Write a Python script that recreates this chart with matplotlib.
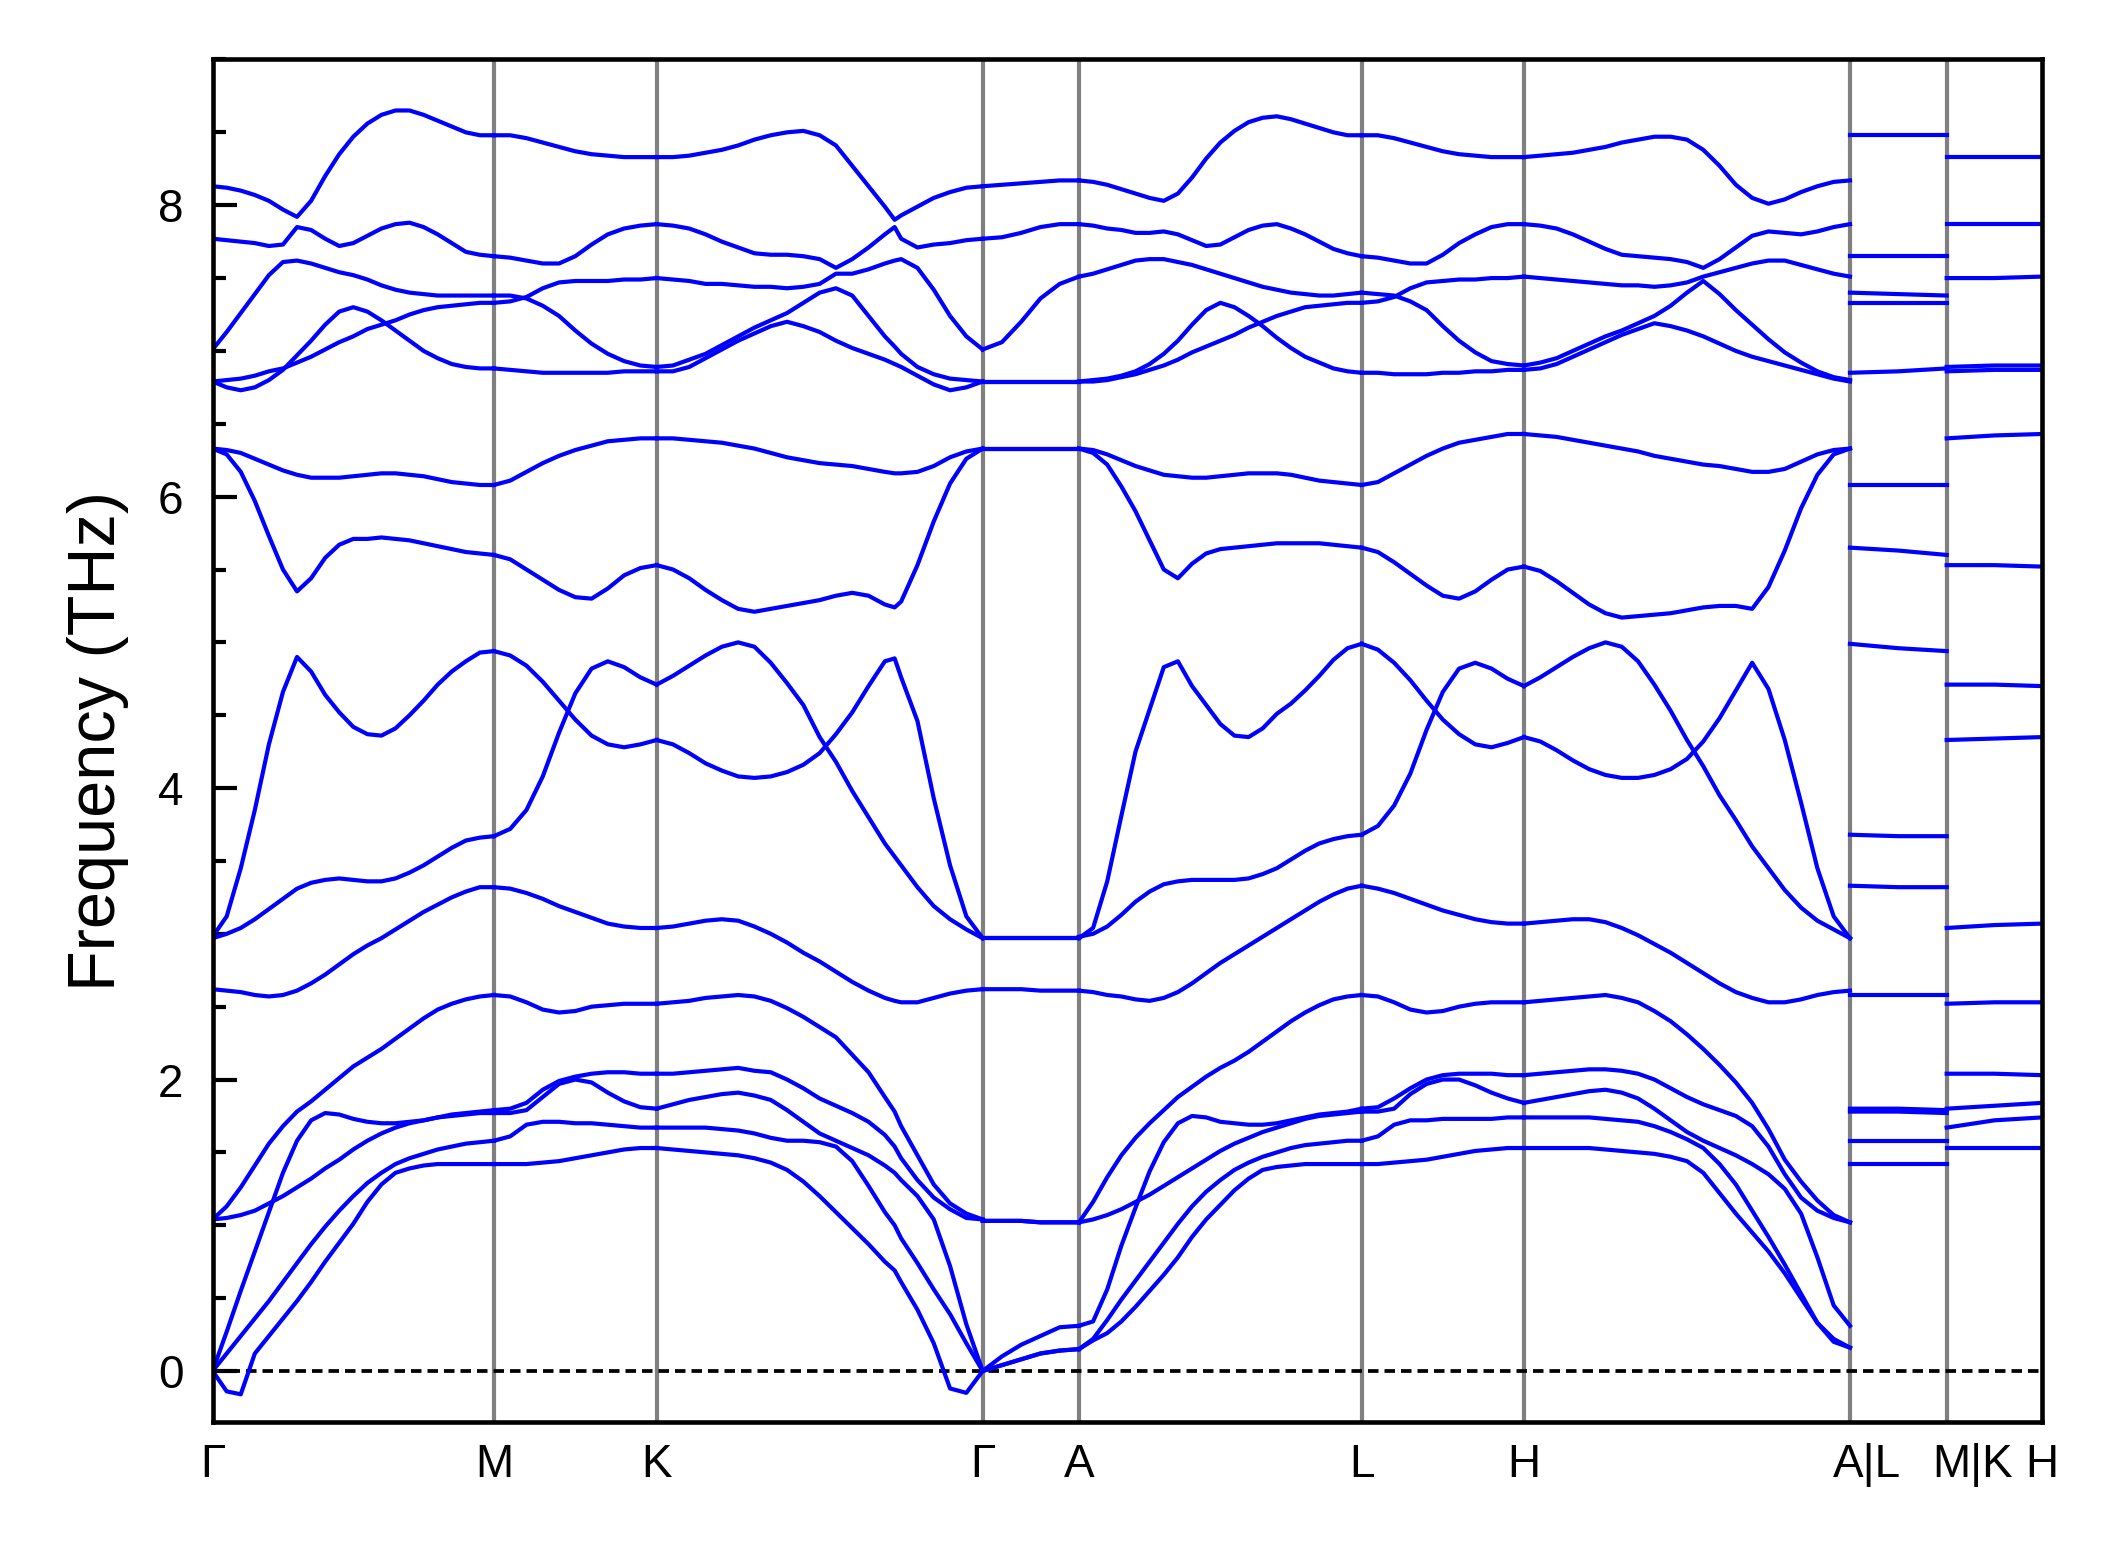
# Phonon band structure along G-M-K-G-A-L-H-A|L-M|K-H

import matplotlib
matplotlib.use('Agg')
import matplotlib.pyplot as plt
from matplotlib.ticker import MultipleLocator
from matplotlib.transforms import ScaledTranslation
import numpy as np

plt.rcParams['font.family'] = ['Liberation Sans', 'DejaVu Sans']

# high-symmetry points and their path distance
labels = ['Γ', 'M', 'K', 'Γ', 'A', 'L', 'H', 'A|L', 'M|K', 'H']
k_nodes = [0.0, 0.2813, 0.4440, 0.7700, 0.8663, 1.1490, 1.3113, 1.6373, 1.7340, 1.8293]

# fractional sample positions inside each segment
t21 = [0.0, 0.05, 0.1, 0.15, 0.2, 0.25, 0.3, 0.35, 0.4, 0.45, 0.5,
       0.55, 0.6, 0.65, 0.7, 0.75, 0.8, 0.85, 0.9, 0.95, 1.0]
t22 = [0.0, 0.05, 0.1, 0.15, 0.2, 0.25, 0.3, 0.35, 0.4, 0.45, 0.5,
       0.55, 0.6, 0.65, 0.7, 0.73, 0.75, 0.8, 0.85, 0.9, 0.95, 1.0]
t11 = [0.0, 0.1, 0.2, 0.3, 0.4, 0.5, 0.6, 0.7, 0.8, 0.9, 1.0]
t6 = [0.0, 0.2, 0.4, 0.6, 0.8, 1.0]
t3 = [0.0, 0.5, 1.0]

# Γ - M  (THz)
gm = [
    [8.13, 8.12, 8.10, 8.07, 8.03, 7.97, 7.92, 8.03, 8.20, 8.35, 8.47, 8.56, 8.62, 8.65, 8.65, 8.62, 8.58, 8.54, 8.50, 8.48, 8.48],
    [7.77, 7.76, 7.75, 7.74, 7.72, 7.73, 7.85, 7.83, 7.77, 7.72, 7.74, 7.79, 7.84, 7.87, 7.88, 7.85, 7.80, 7.74, 7.68, 7.66, 7.65],
    [7.01, 7.13, 7.26, 7.39, 7.52, 7.61, 7.62, 7.60, 7.57, 7.54, 7.52, 7.49, 7.45, 7.42, 7.40, 7.39, 7.38, 7.38, 7.38, 7.38, 7.38],
    [6.79, 6.80, 6.81, 6.83, 6.86, 6.88, 6.92, 6.96, 7.01, 7.06, 7.10, 7.15, 7.18, 7.21, 7.25, 7.28, 7.30, 7.31, 7.32, 7.33, 7.33],
    [6.79, 6.75, 6.73, 6.75, 6.80, 6.87, 6.97, 7.07, 7.18, 7.27, 7.30, 7.27, 7.21, 7.14, 7.07, 7.00, 6.95, 6.91, 6.89, 6.88, 6.88],
    [6.33, 6.32, 6.30, 6.26, 6.22, 6.18, 6.15, 6.13, 6.13, 6.13, 6.14, 6.15, 6.16, 6.16, 6.15, 6.14, 6.12, 6.10, 6.09, 6.08, 6.08],
    [6.33, 6.29, 6.17, 5.97, 5.73, 5.50, 5.35, 5.44, 5.58, 5.67, 5.71, 5.71, 5.72, 5.71, 5.70, 5.68, 5.66, 5.64, 5.62, 5.61, 5.60],
    [2.98, 3.12, 3.45, 3.85, 4.30, 4.66, 4.90, 4.80, 4.64, 4.52, 4.42, 4.37, 4.36, 4.41, 4.50, 4.60, 4.71, 4.80, 4.87, 4.93, 4.94],
    [2.97, 3.00, 3.04, 3.10, 3.17, 3.24, 3.31, 3.35, 3.37, 3.38, 3.37, 3.36, 3.36, 3.38, 3.42, 3.47, 3.53, 3.59, 3.64, 3.66, 3.67],
    [2.62, 2.61, 2.60, 2.58, 2.57, 2.58, 2.61, 2.66, 2.72, 2.79, 2.86, 2.92, 2.97, 3.03, 3.09, 3.15, 3.20, 3.25, 3.29, 3.32, 3.32],
    [1.04, 1.13, 1.26, 1.41, 1.56, 1.68, 1.78, 1.85, 1.93, 2.01, 2.09, 2.15, 2.21, 2.28, 2.35, 2.42, 2.48, 2.52, 2.55, 2.57, 2.58],
    [1.04, 1.05, 1.07, 1.10, 1.15, 1.20, 1.26, 1.32, 1.39, 1.45, 1.52, 1.58, 1.63, 1.67, 1.70, 1.72, 1.74, 1.75, 1.76, 1.77, 1.77],
    [0.00, 0.27, 0.55, 0.82, 1.09, 1.36, 1.58, 1.72, 1.77, 1.76, 1.73, 1.71, 1.70, 1.70, 1.71, 1.72, 1.74, 1.76, 1.77, 1.78, 1.79],
    [0.00, 0.12, 0.24, 0.36, 0.48, 0.61, 0.74, 0.87, 0.99, 1.10, 1.20, 1.29, 1.36, 1.42, 1.46, 1.49, 1.52, 1.54, 1.56, 1.57, 1.58],
    [0.00, -0.14, -0.16, 0.12, 0.24, 0.36, 0.48, 0.61, 0.75, 0.88, 1.01, 1.16, 1.28, 1.36, 1.39, 1.41, 1.42, 1.42, 1.42, 1.42, 1.42],
]

# M - K
mk = [
    [8.48, 8.48, 8.46, 8.43, 8.40, 8.37, 8.35, 8.34, 8.33, 8.33, 8.33],
    [7.65, 7.64, 7.62, 7.60, 7.60, 7.65, 7.73, 7.80, 7.84, 7.86, 7.87],
    [7.38, 7.38, 7.36, 7.31, 7.24, 7.14, 7.05, 6.98, 6.93, 6.90, 6.89],
    [7.33, 7.34, 7.37, 7.43, 7.47, 7.48, 7.48, 7.48, 7.49, 7.49, 7.50],
    [6.88, 6.87, 6.86, 6.85, 6.85, 6.85, 6.85, 6.85, 6.86, 6.86, 6.86],
    [6.08, 6.11, 6.17, 6.23, 6.28, 6.32, 6.35, 6.38, 6.39, 6.40, 6.40],
    [5.60, 5.57, 5.50, 5.43, 5.36, 5.31, 5.30, 5.37, 5.46, 5.51, 5.53],
    [4.94, 4.91, 4.84, 4.73, 4.60, 4.47, 4.36, 4.30, 4.28, 4.30, 4.33],
    [3.67, 3.72, 3.85, 4.08, 4.38, 4.65, 4.82, 4.87, 4.83, 4.76, 4.71],
    [3.32, 3.31, 3.28, 3.24, 3.19, 3.15, 3.11, 3.07, 3.05, 3.04, 3.04],
    [2.58, 2.57, 2.53, 2.48, 2.46, 2.47, 2.50, 2.51, 2.52, 2.52, 2.52],
    [1.79, 1.80, 1.84, 1.93, 1.99, 2.02, 2.04, 2.05, 2.05, 2.04, 2.04],
    [1.77, 1.77, 1.79, 1.88, 1.97, 2.00, 1.98, 1.91, 1.85, 1.81, 1.80],
    [1.58, 1.61, 1.69, 1.71, 1.71, 1.70, 1.70, 1.69, 1.68, 1.67, 1.67],
    [1.42, 1.42, 1.42, 1.43, 1.44, 1.46, 1.48, 1.50, 1.52, 1.53, 1.53],
]

# K - Γ
kg = [
    [8.33, 8.33, 8.34, 8.36, 8.38, 8.41, 8.45, 8.48, 8.50, 8.51, 8.48, 8.41, 8.27, 8.13, 7.99, 7.90, 7.93, 7.99, 8.05, 8.09, 8.12, 8.13],
    [7.87, 7.86, 7.84, 7.80, 7.75, 7.71, 7.67, 7.66, 7.66, 7.65, 7.63, 7.57, 7.63, 7.71, 7.80, 7.85, 7.77, 7.71, 7.73, 7.74, 7.76, 7.77],
    [7.50, 7.49, 7.48, 7.46, 7.46, 7.45, 7.44, 7.44, 7.43, 7.44, 7.46, 7.53, 7.53, 7.56, 7.60, 7.62, 7.63, 7.57, 7.42, 7.24, 7.10, 7.01],
    [6.89, 6.90, 6.94, 6.98, 7.04, 7.10, 7.16, 7.21, 7.26, 7.33, 7.40, 7.43, 7.38, 7.24, 7.10, 7.03, 6.98, 6.89, 6.84, 6.81, 6.80, 6.79],
    [6.86, 6.86, 6.89, 6.95, 7.01, 7.07, 7.12, 7.17, 7.20, 7.17, 7.13, 7.07, 7.02, 6.98, 6.94, 6.91, 6.89, 6.83, 6.77, 6.73, 6.75, 6.79],
    [6.40, 6.40, 6.39, 6.38, 6.37, 6.35, 6.33, 6.30, 6.27, 6.25, 6.23, 6.22, 6.21, 6.19, 6.17, 6.16, 6.16, 6.17, 6.21, 6.27, 6.31, 6.33],
    [5.53, 5.50, 5.44, 5.36, 5.29, 5.23, 5.21, 5.23, 5.25, 5.27, 5.29, 5.32, 5.34, 5.32, 5.26, 5.24, 5.28, 5.53, 5.83, 6.09, 6.26, 6.33],
    [4.33, 4.30, 4.24, 4.17, 4.12, 4.08, 4.07, 4.08, 4.11, 4.16, 4.24, 4.37, 4.52, 4.70, 4.87, 4.89, 4.76, 4.46, 3.93, 3.47, 3.12, 2.97],
    [4.71, 4.77, 4.84, 4.91, 4.97, 5.00, 4.97, 4.86, 4.72, 4.57, 4.35, 4.18, 3.98, 3.80, 3.62, 3.53, 3.47, 3.32, 3.19, 3.10, 3.03, 2.97],
    [3.04, 3.05, 3.07, 3.09, 3.10, 3.09, 3.05, 3.00, 2.94, 2.87, 2.81, 2.74, 2.67, 2.61, 2.56, 2.54, 2.53, 2.53, 2.56, 2.59, 2.61, 2.62],
    [2.52, 2.53, 2.54, 2.56, 2.57, 2.58, 2.57, 2.54, 2.49, 2.43, 2.36, 2.29, 2.17, 2.05, 1.88, 1.78, 1.68, 1.48, 1.28, 1.15, 1.08, 1.04],
    [2.04, 2.04, 2.05, 2.06, 2.07, 2.08, 2.06, 2.05, 2.00, 1.94, 1.87, 1.82, 1.77, 1.71, 1.62, 1.54, 1.46, 1.31, 1.19, 1.11, 1.05, 1.04],
    [1.80, 1.83, 1.86, 1.88, 1.90, 1.91, 1.89, 1.86, 1.79, 1.71, 1.63, 1.58, 1.53, 1.48, 1.41, 1.36, 1.31, 1.20, 1.04, 0.72, 0.32, 0.00],
    [1.67, 1.67, 1.67, 1.67, 1.66, 1.65, 1.63, 1.60, 1.58, 1.58, 1.57, 1.54, 1.44, 1.27, 1.09, 1.00, 0.91, 0.74, 0.56, 0.39, 0.19, 0.00],
    [1.53, 1.52, 1.51, 1.50, 1.49, 1.48, 1.46, 1.43, 1.38, 1.30, 1.20, 1.09, 0.98, 0.87, 0.75, 0.69, 0.61, 0.42, 0.19, -0.12, -0.15, 0.00],
]

# Γ - A
ga = [
    [8.13, 8.14, 8.15, 8.16, 8.17, 8.17],
    [7.77, 7.78, 7.81, 7.85, 7.87, 7.87],
    [7.01, 7.06, 7.20, 7.36, 7.46, 7.51],
    [6.79, 6.79, 6.79, 6.79, 6.79, 6.79],
    [6.79, 6.79, 6.79, 6.79, 6.79, 6.79],
    [6.33, 6.33, 6.33, 6.33, 6.33, 6.33],
    [6.33, 6.33, 6.33, 6.33, 6.33, 6.33],
    [2.97, 2.97, 2.97, 2.97, 2.97, 2.97],
    [2.97, 2.97, 2.97, 2.97, 2.97, 2.97],
    [2.62, 2.62, 2.62, 2.61, 2.61, 2.61],
    [1.03, 1.03, 1.03, 1.02, 1.02, 1.02],
    [1.03, 1.03, 1.03, 1.02, 1.02, 1.02],
    [0.00, 0.10, 0.18, 0.24, 0.30, 0.31],
    [0.00, 0.04, 0.08, 0.12, 0.14, 0.15],
    [0.00, 0.04, 0.08, 0.12, 0.14, 0.15],
]

# A - L
al = [
    [8.17, 8.16, 8.14, 8.11, 8.08, 8.05, 8.03, 8.08, 8.19, 8.32, 8.43, 8.51, 8.57, 8.60, 8.61, 8.59, 8.56, 8.53, 8.50, 8.48, 8.48],
    [7.87, 7.86, 7.84, 7.83, 7.81, 7.81, 7.82, 7.80, 7.76, 7.72, 7.73, 7.78, 7.83, 7.86, 7.87, 7.84, 7.80, 7.75, 7.70, 7.67, 7.65],
    [7.51, 7.53, 7.56, 7.59, 7.62, 7.63, 7.63, 7.61, 7.59, 7.56, 7.53, 7.50, 7.47, 7.44, 7.42, 7.40, 7.39, 7.38, 7.38, 7.39, 7.40],
    [6.79, 6.79, 6.80, 6.82, 6.84, 6.87, 6.90, 6.94, 6.99, 7.03, 7.07, 7.11, 7.16, 7.20, 7.24, 7.27, 7.30, 7.31, 7.32, 7.33, 7.33],
    [6.79, 6.80, 6.81, 6.83, 6.86, 6.91, 6.98, 7.07, 7.18, 7.28, 7.33, 7.30, 7.24, 7.17, 7.09, 7.02, 6.96, 6.92, 6.88, 6.86, 6.85],
    [6.33, 6.32, 6.29, 6.25, 6.21, 6.18, 6.15, 6.14, 6.13, 6.13, 6.14, 6.15, 6.16, 6.16, 6.16, 6.15, 6.13, 6.11, 6.10, 6.09, 6.08],
    [6.33, 6.30, 6.22, 6.07, 5.90, 5.70, 5.50, 5.44, 5.54, 5.61, 5.64, 5.65, 5.66, 5.67, 5.68, 5.68, 5.68, 5.68, 5.67, 5.66, 5.65],
    [2.97, 3.04, 3.36, 3.81, 4.25, 4.54, 4.83, 4.87, 4.70, 4.57, 4.44, 4.36, 4.35, 4.41, 4.51, 4.58, 4.67, 4.77, 4.88, 4.96, 4.99],
    [2.98, 3.00, 3.05, 3.13, 3.22, 3.29, 3.34, 3.36, 3.37, 3.37, 3.37, 3.37, 3.38, 3.41, 3.45, 3.51, 3.57, 3.62, 3.65, 3.67, 3.68],
    [2.61, 2.60, 2.58, 2.57, 2.55, 2.54, 2.56, 2.60, 2.66, 2.73, 2.80, 2.86, 2.92, 2.98, 3.04, 3.10, 3.16, 3.22, 3.27, 3.31, 3.33],
    [1.02, 1.16, 1.33, 1.48, 1.60, 1.70, 1.79, 1.88, 1.95, 2.02, 2.08, 2.13, 2.19, 2.26, 2.33, 2.40, 2.46, 2.51, 2.55, 2.57, 2.58],
    [1.02, 1.04, 1.07, 1.11, 1.16, 1.21, 1.27, 1.33, 1.39, 1.45, 1.51, 1.56, 1.60, 1.64, 1.67, 1.70, 1.73, 1.75, 1.76, 1.77, 1.78],
    [0.31, 0.34, 0.56, 0.86, 1.12, 1.37, 1.57, 1.70, 1.75, 1.74, 1.71, 1.70, 1.69, 1.69, 1.70, 1.72, 1.74, 1.76, 1.77, 1.78, 1.80],
    [0.15, 0.22, 0.35, 0.49, 0.62, 0.75, 0.88, 1.01, 1.13, 1.23, 1.31, 1.38, 1.43, 1.47, 1.50, 1.53, 1.55, 1.56, 1.57, 1.58, 1.58],
    [0.15, 0.21, 0.26, 0.34, 0.44, 0.55, 0.66, 0.78, 0.92, 1.04, 1.14, 1.24, 1.32, 1.38, 1.40, 1.41, 1.42, 1.42, 1.42, 1.42, 1.42],
]

# L - H
lh = [
    [8.48, 8.48, 8.46, 8.43, 8.40, 8.37, 8.35, 8.34, 8.33, 8.33, 8.33],
    [7.65, 7.64, 7.62, 7.60, 7.60, 7.66, 7.74, 7.80, 7.85, 7.87, 7.87],
    [7.40, 7.39, 7.38, 7.34, 7.28, 7.17, 7.07, 6.99, 6.93, 6.91, 6.90],
    [7.33, 7.34, 7.37, 7.43, 7.47, 7.48, 7.49, 7.49, 7.50, 7.50, 7.51],
    [6.85, 6.85, 6.84, 6.84, 6.84, 6.85, 6.85, 6.86, 6.86, 6.87, 6.87],
    [6.08, 6.10, 6.16, 6.22, 6.28, 6.33, 6.37, 6.39, 6.41, 6.43, 6.43],
    [5.65, 5.62, 5.55, 5.47, 5.39, 5.32, 5.30, 5.35, 5.43, 5.50, 5.52],
    [4.99, 4.95, 4.86, 4.74, 4.60, 4.47, 4.37, 4.30, 4.28, 4.31, 4.35],
    [3.68, 3.74, 3.88, 4.10, 4.40, 4.66, 4.82, 4.86, 4.82, 4.75, 4.70],
    [3.33, 3.31, 3.28, 3.24, 3.20, 3.16, 3.13, 3.10, 3.08, 3.07, 3.07],
    [2.58, 2.57, 2.53, 2.48, 2.46, 2.47, 2.50, 2.52, 2.53, 2.53, 2.53],
    [1.80, 1.81, 1.87, 1.94, 2.00, 2.03, 2.04, 2.04, 2.04, 2.03, 2.03],
    [1.78, 1.78, 1.80, 1.90, 1.97, 2.00, 2.00, 1.96, 1.91, 1.87, 1.84],
    [1.58, 1.61, 1.69, 1.72, 1.72, 1.73, 1.73, 1.73, 1.73, 1.74, 1.74],
    [1.42, 1.42, 1.43, 1.44, 1.45, 1.47, 1.49, 1.51, 1.52, 1.53, 1.53],
]

# H - A
ha = [
    [8.33, 8.34, 8.35, 8.36, 8.38, 8.40, 8.43, 8.45, 8.47, 8.47, 8.45, 8.38, 8.27, 8.14, 8.05, 8.01, 8.04, 8.09, 8.13, 8.16, 8.17],
    [7.87, 7.86, 7.84, 7.80, 7.75, 7.70, 7.66, 7.65, 7.64, 7.63, 7.61, 7.57, 7.63, 7.71, 7.79, 7.82, 7.81, 7.80, 7.82, 7.85, 7.87],
    [7.51, 7.50, 7.49, 7.48, 7.47, 7.46, 7.45, 7.45, 7.44, 7.45, 7.47, 7.51, 7.54, 7.57, 7.60, 7.62, 7.62, 7.59, 7.56, 7.53, 7.51],
    [6.90, 6.92, 6.95, 7.00, 7.05, 7.10, 7.14, 7.19, 7.24, 7.31, 7.40, 7.48, 7.39, 7.28, 7.18, 7.08, 6.99, 6.92, 6.86, 6.82, 6.80],
    [6.87, 6.88, 6.91, 6.96, 7.01, 7.06, 7.11, 7.15, 7.19, 7.17, 7.14, 7.10, 7.05, 7.00, 6.96, 6.93, 6.90, 6.87, 6.84, 6.81, 6.79],
    [6.43, 6.42, 6.41, 6.39, 6.37, 6.35, 6.33, 6.31, 6.28, 6.26, 6.24, 6.22, 6.21, 6.19, 6.17, 6.17, 6.19, 6.24, 6.29, 6.32, 6.33],
    [5.52, 5.49, 5.42, 5.34, 5.26, 5.20, 5.17, 5.18, 5.19, 5.20, 5.22, 5.24, 5.25, 5.25, 5.23, 5.38, 5.63, 5.92, 6.15, 6.29, 6.33],
    [4.35, 4.32, 4.26, 4.19, 4.13, 4.09, 4.07, 4.07, 4.09, 4.13, 4.20, 4.32, 4.48, 4.67, 4.86, 4.68, 4.33, 3.90, 3.45, 3.12, 2.97],
    [4.70, 4.76, 4.83, 4.90, 4.96, 5.00, 4.97, 4.87, 4.71, 4.53, 4.33, 4.15, 3.95, 3.78, 3.60, 3.45, 3.30, 3.18, 3.09, 3.03, 2.97],
    [3.07, 3.08, 3.09, 3.10, 3.10, 3.08, 3.04, 2.99, 2.93, 2.87, 2.80, 2.73, 2.66, 2.60, 2.56, 2.53, 2.53, 2.55, 2.58, 2.60, 2.61],
    [2.53, 2.54, 2.55, 2.56, 2.57, 2.58, 2.56, 2.53, 2.47, 2.40, 2.31, 2.21, 2.10, 1.98, 1.84, 1.66, 1.45, 1.30, 1.17, 1.07, 1.02],
    [2.03, 2.04, 2.05, 2.06, 2.07, 2.07, 2.06, 2.04, 2.00, 1.94, 1.88, 1.83, 1.79, 1.75, 1.68, 1.54, 1.35, 1.19, 1.10, 1.05, 1.02],
    [1.84, 1.86, 1.88, 1.90, 1.92, 1.93, 1.91, 1.87, 1.80, 1.72, 1.64, 1.58, 1.53, 1.48, 1.42, 1.35, 1.25, 1.08, 0.78, 0.45, 0.31],
    [1.74, 1.74, 1.74, 1.74, 1.74, 1.73, 1.72, 1.71, 1.68, 1.64, 1.59, 1.53, 1.42, 1.28, 1.10, 0.92, 0.73, 0.53, 0.33, 0.20, 0.16],
    [1.53, 1.53, 1.53, 1.53, 1.53, 1.52, 1.51, 1.50, 1.49, 1.47, 1.44, 1.36, 1.22, 1.08, 0.95, 0.82, 0.67, 0.50, 0.33, 0.22, 0.16],
]

# L - M
lm = [
    [8.48, 8.48, 8.48], [7.65, 7.65, 7.65], [7.40, 7.39, 7.38], [7.33, 7.33, 7.33],
    [6.85, 6.86, 6.88], [6.08, 6.08, 6.08], [5.65, 5.63, 5.60], [4.99, 4.96, 4.94],
    [3.68, 3.67, 3.67], [3.33, 3.32, 3.32], [2.58, 2.58, 2.58], [1.80, 1.80, 1.79],
    [1.78, 1.78, 1.77], [1.58, 1.58, 1.58], [1.42, 1.42, 1.42],
]

# K - H
kh = [
    [8.33, 8.33, 8.33], [7.87, 7.87, 7.87], [7.50, 7.50, 7.51], [6.89, 6.90, 6.90],
    [6.86, 6.87, 6.87], [6.40, 6.42, 6.43], [5.53, 5.53, 5.52], [4.71, 4.71, 4.70],
    [4.33, 4.34, 4.35], [3.04, 3.06, 3.07], [2.52, 2.53, 2.53], [2.04, 2.04, 2.03],
    [1.80, 1.82, 1.84], [1.67, 1.72, 1.74], [1.53, 1.53, 1.53],
]

segments = [
    (0, 1, t21, gm), (1, 2, t11, mk), (2, 3, t22, kg), (3, 4, t6, ga),
    (4, 5, t21, al), (5, 6, t11, lh), (6, 7, t21, ha), (7, 8, t3, lm),
    (8, 9, t3, kh),
]

fig = plt.figure(figsize=(2120 / 300, 1549 / 300), dpi=300)
ax = fig.add_axes([0.1003, 0.082, 0.8629, 0.8796])

for xk in k_nodes[1:-1]:
    ax.axvline(xk, color='gray', lw=1.0, zorder=1)
ax.axhline(0, color='black', lw=0.9, ls=(0, (2.8, 1.6)), zorder=1)

for i0, i1, tt, bands in segments:
    x = k_nodes[i0] + np.array(tt) * (k_nodes[i1] - k_nodes[i0])
    for b in bands:
        ax.plot(x, b, color='blue', lw=1.0, zorder=2)

ax.set_xlim(k_nodes[0], k_nodes[-1])
ax.set_ylim(-0.35, 9.0)
ax.set_xticks(k_nodes)
ax.set_xticklabels(labels)
ax.tick_params(axis='x', length=0, pad=5, labelsize=11)

# the joined labels sit a little to the right of their lines
shifts = {'A|L': 0.058, 'M|K': 0.085}
for lab in ax.get_xticklabels():
    dx = shifts.get(lab.get_text(), 0.0)
    if dx:
        lab.set_transform(lab.get_transform() + ScaledTranslation(dx, 0, fig.dpi_scale_trans))

ax.yaxis.set_major_locator(MultipleLocator(2))
ax.yaxis.set_minor_locator(MultipleLocator(0.5))
ax.tick_params(axis='y', which='major', direction='in', length=5.8, width=1.0, labelsize=11, pad=7)
ax.tick_params(axis='y', which='minor', direction='in', length=3.0, width=1.0)
ax.set_ylabel('Frequency (THz)', fontsize=16, labelpad=7)

for sp in ax.spines.values():
    sp.set_linewidth(1.1)

fig.savefig('out.png', dpi=300)
